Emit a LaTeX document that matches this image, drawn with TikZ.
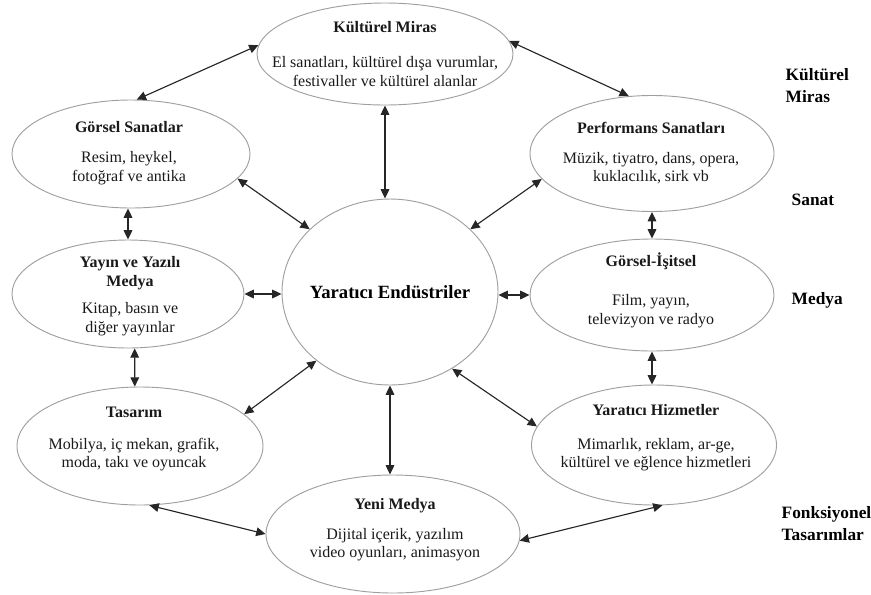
\documentclass[tikz,border=0pt]{standalone}
\usepackage{fontspec}
\setmainfont{Liberation Serif}
\usetikzlibrary{shapes.geometric,arrows.meta}
\tikzset{
  ell/.style 2 args={draw=gray!75,ellipse,line width=0.7pt,minimum width=#1,minimum height=#2,inner sep=0pt},
  txt/.style={align=center,font=\fontsize{12}{14}\selectfont,text=black!90},
  big/.style={font=\bfseries\fontsize{14}{17}\selectfont},
  side/.style={align=left,anchor=west,font=\bfseries\fontsize{13}{16.5}\selectfont},
  dbl/.style={{Triangle[length=7pt,width=6.5pt]}-{Triangle[length=7pt,width=6.5pt]},line width=0.85pt,black!85}
}
\begin{document}
\begin{tikzpicture}[x=0.75pt,y=-0.75pt]
\useasboundingbox (0,0) rectangle (871,594);
% ellipses
\node[ell={192pt}{76.5pt}] (km) at (385,54) {};
\node[ell={178.5pt}{81pt}] (gs) at (131,154) {};
\node[ell={183pt}{87pt}] (ps) at (652,153.5) {};
\node[ell={174pt}{81pt}] (yy) at (128,294) {};
\node[ell={162pt}{139.5pt}] (ye) at (390,292) {};
\node[ell={183pt}{84pt}] (gi) at (652,295) {};
\node[ell={184.5pt}{88.5pt}] (ta) at (140,446) {};
\node[ell={183.75pt}{90pt}] (yh) at (654,445) {};
\node[ell={190.5pt}{88.5pt}] (ym) at (393,534) {};
% texts
\node[txt] (km-t) at (385,54) {\textbf{Kültürel Miras}\\[12pt]El sanatları, kültürel dışa vurumlar,\\festivaller ve kültürel alanlar};
\node[txt] (gs-t) at (129,153) {\textbf{Görsel Sanatlar}\\[8.5pt]Resim, heykel,\\fotoğraf ve antika};
\node[txt] (ps-t) at (651,153) {\textbf{Performans Sanatları}\\[8.5pt]Müzik, tiyatro, dans, opera,\\kuklacılık, sirk vb};
\node[txt] (yy-t) at (130,296) {\textbf{Yayın ve Yazılı}\\\textbf{Medya}\\[6.5pt]Kitap, basın ve\\diğer yayınlar};
\node[big] (ye-t) at (390,292) {Yaratıcı Endüstriler};
\node[txt] (gi-t) at (651,290) {\textbf{Görsel-İşitsel}\\[15.5pt]Film, yayın,\\televizyon ve radyo};
\node[txt] (ta-t) at (134,439) {\textbf{Tasarım}\\[10pt]Mobilya, iç mekan, grafik,\\moda, takı ve oyuncak};
\node[txt] (yh-t) at (656,438) {\textbf{Yaratıcı Hizmetler}\\[11pt]Mimarlık, reklam, ar-ge,\\kültürel ve eğlence hizmetleri};
\node[txt] (ym-t) at (395,530) {\textbf{Yeni Medya}\\[8pt]Dijital içerik, yazılım\\video oyunları, animasyon};
% side labels
\node[side] (s1) at (781,86) {Kültürel\\Miras};
\node[side] (s2) at (787,200) {Sanat};
\node[side] (s3) at (787,300) {Medya};
\node[side] (s4) at (777,524) {Fonksiyonel\\Tasarımlar};
% arrows
\draw[dbl] (km.176) -- (gs.84);
\draw[dbl] (km.6) -- (ps.112);
\draw[dbl] (km.south) -- (km.south |- ye.north);
\draw[dbl] (gs.-13) -- (ye.142);
\draw[dbl] (ps.193) -- (ye.38);
\draw[dbl] (yy.north |- gs.south) -- (yy.north);
\draw[dbl] (ps.south) -- (gi.north);
\draw[dbl] (yy.east) -- (yy.east -| ye.west);
\draw[dbl] (gi.west) -- (gi.west -| ye.east);
\draw[dbl] (yy.-83) -- (ta.95);
\draw[dbl] (gi.south) -- (gi.south |- yh.north);
\draw[dbl] (ta.17) -- (ye.223);
\draw[dbl] (ye.-51) -- (yh.171);
\draw[dbl] (ye.south) -- (ye.south |- ym.north);
\draw[dbl] (ta.-81) -- (ym.180);
\draw[dbl] (yh.-82) -- (ym.-3);
\end{tikzpicture}
\end{document}
